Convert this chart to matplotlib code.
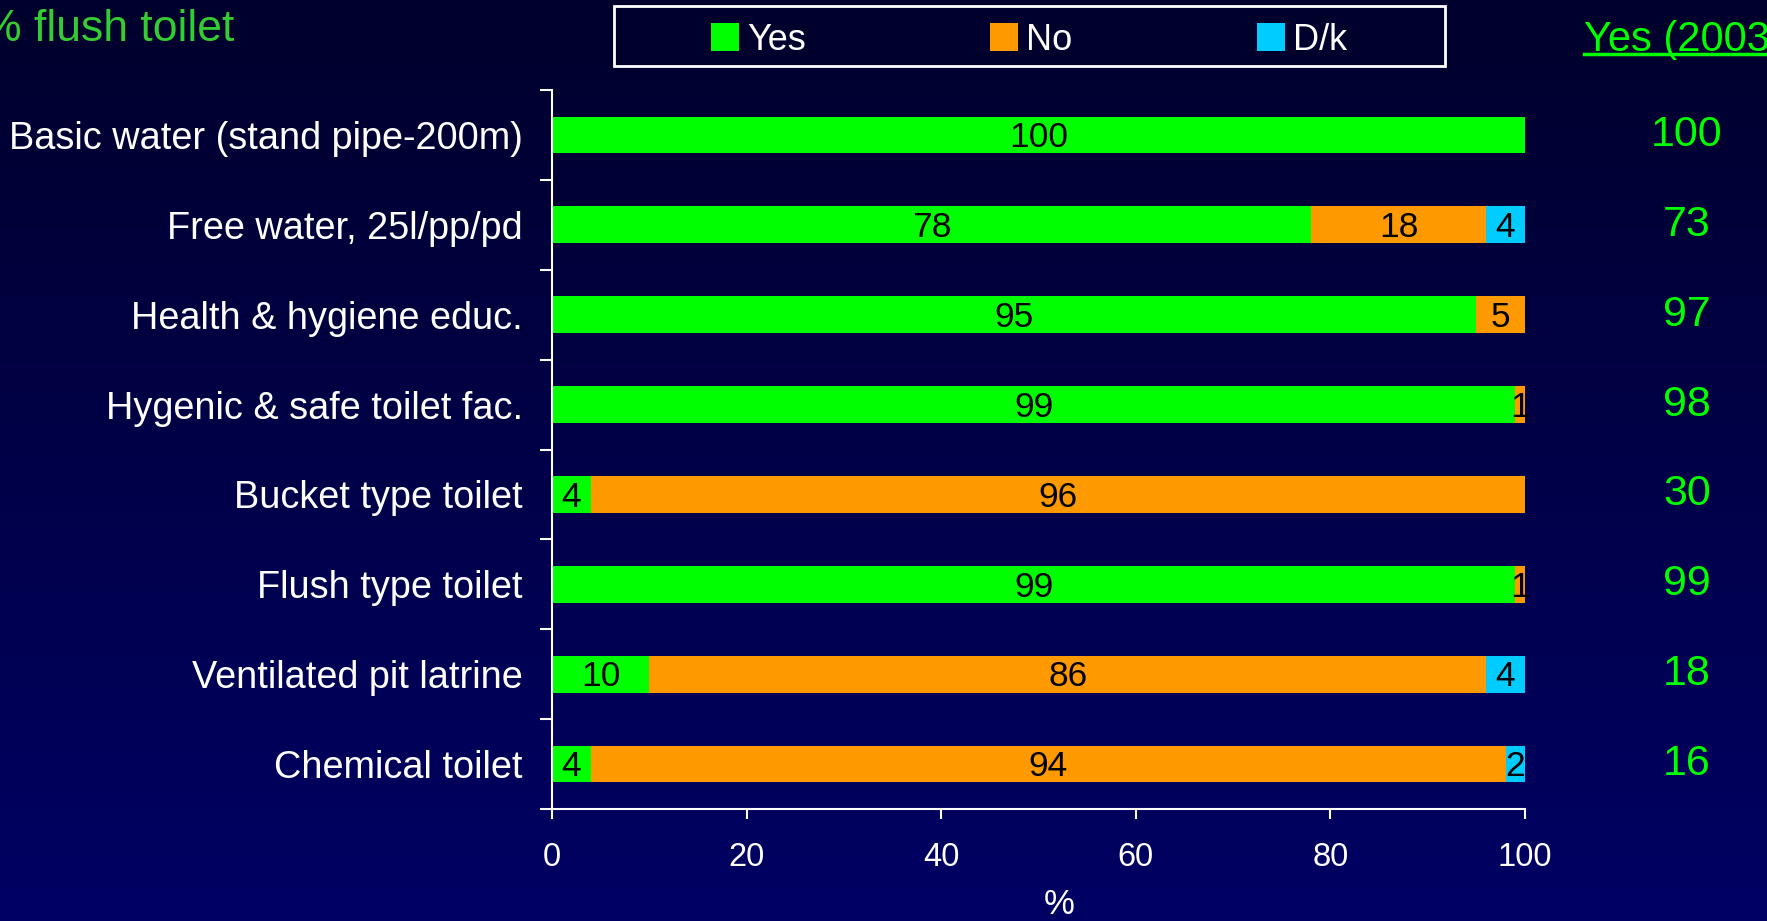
import matplotlib
matplotlib.use("Agg")
import matplotlib.pyplot as plt
import matplotlib.transforms as mtransforms
from matplotlib.colors import LinearSegmentedColormap
from matplotlib.patches import Patch, Rectangle
from matplotlib.lines import Line2D
import numpy as np

# survey answers, % of respondents
categories = ['Basic water (stand pipe-200m)', 'Free water, 25l/pp/pd',
              'Health & hygiene educ.', 'Hygenic & safe toilet fac.',
              'Bucket type toilet', 'Flush type toilet',
              'Ventilated pit latrine', 'Chemical toilet']
yes = [100, 78, 95, 99, 4, 99, 10, 4]
no = [0, 18, 5, 1, 96, 1, 86, 94]
dk = [0, 4, 0, 0, 0, 0, 4, 2]
yes_2003 = [100, 73, 97, 98, 30, 99, 18, 16]
xticks = [0, 20, 40, 60, 80, 100]

series_names = ['Yes', 'No', 'D/k']
series_colours = ['#00FF00', '#FF9900', '#00CCFF']

plt.rcParams['font.family'] = ['Liberation Sans', 'DejaVu Sans']

W, H = 1767, 921
fig = plt.figure(figsize=(W / 100, H / 100), dpi=100)

# dark blue backdrop, darker at the top
bgax = fig.add_axes([0, 0, 1, 1], zorder=-10)
grad = np.linspace(0, 1, 256).reshape(-1, 1)
bgcmap = LinearSegmentedColormap.from_list('bg', ['#00002C', '#000064'])
bgax.imshow(grad, aspect='auto', cmap=bgcmap, extent=[0, 1, 0, 1], origin='upper')
bgax.axis('off')

left, right, top, bottom = 552, 1525, 90, 809
ax = fig.add_axes([left / W, 1 - bottom / H, (right - left) / W, (bottom - top) / H])
ax.set_facecolor('none')

ypos = np.arange(len(categories))
bar_h = 0.41
start = np.zeros(len(categories))
for vals, name, col in zip([yes, no, dk], series_names, series_colours):
    vals = np.array(vals, dtype=float)
    ax.barh(ypos, vals, left=start, height=bar_h, color=col, label=name)
    for y, v, s in zip(ypos, vals, start):
        if v > 0:
            ax.text(s + v / 2, y + 0.03, '%d' % v, ha='center', va='center',
                    fontsize=25.5, color='black')
    start += vals

ax.set_xlim(0, 100)
ax.set_ylim(len(categories) - 0.5, -0.5)
ax.set_xticks(xticks)
ax.set_yticks(ypos)
ax.set_yticklabels(categories)
ax.set_yticks(np.arange(len(categories) + 1) - 0.5, minor=True)

for s in ['top', 'right']:
    ax.spines[s].set_visible(False)
for s in ['left', 'bottom']:
    ax.spines[s].set_color('white')
    ax.spines[s].set_linewidth(1.5)

ax.tick_params(axis='x', colors='white', labelsize=23.5, length=7.5, width=1.5, pad=16)
ax.tick_params(axis='y', which='major', colors='white', labelsize=27.3, length=0, pad=21)
ax.tick_params(axis='y', which='minor', colors='white', length=8.5, width=1.5)

ax.set_xlabel('%', color='white', fontsize=25)
ax.xaxis.set_label_coords(0.521, -0.11)

# 2003 comparison column
trans = mtransforms.blended_transform_factory(fig.transFigure, ax.transData)
for y, v in zip(ypos, yes_2003):
    ax.text(1687 / W, y, '%d' % v, transform=trans, ha='center', va='center',
            fontsize=31, color='#00FF00', clip_on=False)

fig.text(1584 / W, 1 - 51 / H, 'Yes (2003)', ha='left', va='baseline',
         fontsize=30, color='#00FF00')
fig.add_artist(Line2D([1584 / W, 1.0], [1 - 54 / H] * 2, color='#00FF00', lw=2.5,
                      transform=fig.transFigure))

fig.text(234 / W, 1 - 41 / H, '% flush toilet', ha='right', va='baseline',
         fontsize=32, color='#33CC33')

# legend box
fig.add_artist(Rectangle((614 / W, 1 - 66 / H), (1445 - 614) / W, 60 / H,
                         transform=fig.transFigure, facecolor='#00002C',
                         edgecolor='white', lw=2))
handles = [Patch(facecolor=c, edgecolor='none') for c in series_colours]
leg = fig.legend(handles, series_names, loc='center', bbox_to_anchor=(1029 / W, 1 - 40 / H),
                 ncol=3, frameon=False, fontsize=26, handlelength=0.78, handleheight=0.78,
                 handletextpad=0.22, columnspacing=5.1, borderpad=0)
for t in leg.get_texts():
    t.set_color('white')

fig.savefig('out.png', dpi=100)
